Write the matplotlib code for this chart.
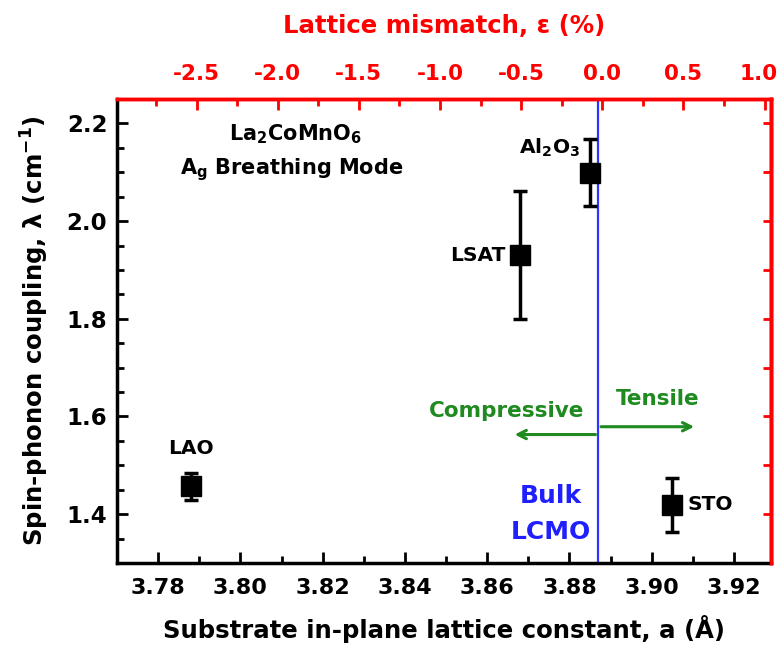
import numpy as np
import matplotlib.pyplot as plt
import matplotlib.transforms as mtransforms
from matplotlib.ticker import MultipleLocator

# data
substrates = ["LAO", "LSAT", "Al$_2$O$_3$", "STO"]
lattice_a = [3.788, 3.868, 3.885, 3.905]
coupling = [1.457, 1.930, 2.099, 1.419]
coupling_err = [0.027, 0.131, 0.069, 0.056]
bulk_a = 3.887
mismatch_ticks = [-2.5, -2.0, -1.5, -1.0, -0.5, 0.0, 0.5, 1.0]

plt.rcParams['font.family'] = 'DejaVu Sans'
plt.rcParams['font.weight'] = 'bold'
plt.rcParams['axes.labelweight'] = 'bold'
plt.rcParams['mathtext.default'] = 'bf'

fig = plt.figure(figsize=(7.81, 6.52), dpi=100)
ax = fig.add_axes([117/781, 1-563/652, 654/781, 464/652])

ax.errorbar(lattice_a, coupling, yerr=coupling_err, fmt='s', color='black',
            markersize=14, elinewidth=2.5, capsize=5, capthick=2.5, zorder=3)

ax.set_xlim(3.770, 3.929)
ax.set_ylim(1.30, 2.25)

ax.axvline(bulk_a, color='#3333ff', lw=1.6, zorder=2)

# point labels
ax.text(lattice_a[0], 1.535, substrates[0], ha='center', va='center', fontsize=14.5)
ax.text(3.8645, coupling[1], substrates[1], ha='right', va='center', fontsize=14.5)
ax.text(3.8825, 2.150, substrates[2], ha='right', va='center', fontsize=14.5)
ax.text(3.9086, coupling[3], substrates[3], ha='left', va='center', fontsize=14.5)

ax.text(3.8135, 2.177, "La$_2$CoMnO$_6$", ha='center', va='center', fontsize=15)
ax.text(3.8125, 2.105, "A$_g$ Breathing Mode", ha='center', va='center', fontsize=15)

green = '#1f8a1f'
ax.annotate("", xy=(3.866, 1.563), xytext=(bulk_a, 1.563),
            arrowprops=dict(arrowstyle='->,head_length=0.6,head_width=0.3', color=green, lw=2.2))
ax.annotate("", xy=(3.911, 1.579), xytext=(bulk_a, 1.579),
            arrowprops=dict(arrowstyle='->,head_length=0.6,head_width=0.3', color=green, lw=2.2))
ax.text(3.8646, 1.612, "Compressive", color=green, ha='center', va='center', fontsize=15.5)
ax.text(3.9015, 1.636, "Tensile", color=green, ha='center', va='center', fontsize=15.5)

ax.text(3.8755, 1.437, "Bulk", color='#2020ff', ha='center', va='center', fontsize=18)
ax.text(3.8755, 1.363, "LCMO", color='#2020ff', ha='center', va='center', fontsize=18)

ax.xaxis.set_major_locator(MultipleLocator(0.02))
ax.xaxis.set_minor_locator(MultipleLocator(0.01))
ax.yaxis.set_major_locator(MultipleLocator(0.2))
ax.yaxis.set_minor_locator(MultipleLocator(0.05))
ax.xaxis.set_major_formatter(plt.FormatStrFormatter('%.2f'))
ax.yaxis.set_major_formatter(plt.FormatStrFormatter('%.1f'))
ax.tick_params(which='both', direction='in', width=2, top=False, right=False)
ax.tick_params(which='major', length=8)
ax.tick_params(which='minor', length=5)
ax.tick_params(axis='x', labelsize=16, pad=11)
ax.tick_params(axis='y', labelsize=16.5, pad=7)

ax.set_xlabel("Substrate in-plane lattice constant, a (Å)", fontsize=17.6, labelpad=12)
ax.set_ylabel("Spin-phonon coupling, λ (cm$^{-1}$)", fontsize=17.6, labelpad=11)

for side in ['left', 'bottom']:
    ax.spines[side].set_linewidth(2.5)
for side in ['top', 'right']:
    ax.spines[side].set_linewidth(2.5)
    ax.spines[side].set_color('red')

# right ticks (red, every 0.1)
axr = ax.secondary_yaxis('right')
axr.yaxis.set_major_locator(MultipleLocator(0.1))
axr.tick_params(direction='in', length=6, width=2, color='red', labelright=False)
axr.spines['right'].set_color('red')
axr.spines['right'].set_linewidth(2.5)

# top axis: lattice mismatch
ax2 = ax.twiny()
ax2.set_xlim(-2.99, 1.04)
ax2.set_xticks(mismatch_ticks)
ax2.xaxis.set_minor_locator(MultipleLocator(0.25))
ax2.xaxis.set_major_formatter(plt.FormatStrFormatter('%.1f'))
ax2.tick_params(which='both', direction='in', width=2, color='red', labelcolor='red',
                labelsize=15.5, pad=11)
ax2.tick_params(which='major', length=8)
ax2.tick_params(which='minor', length=5)
ax2.set_xlabel("Lattice mismatch, ε (%)", color='red', fontsize=17.6, labelpad=22)
for side in ['top', 'right']:
    ax2.spines[side].set_color('red')
    ax2.spines[side].set_linewidth(2.5)
for side in ['left', 'bottom']:
    ax2.spines[side].set_visible(False)

# keep the last top label inside the figure edge
last = ax2.get_xticklabels()[-1]
last.set_transform(last.get_transform() +
                   mtransforms.ScaledTranslation(-4/72, 0, fig.dpi_scale_trans))

fig.savefig("out.png", dpi=100)
